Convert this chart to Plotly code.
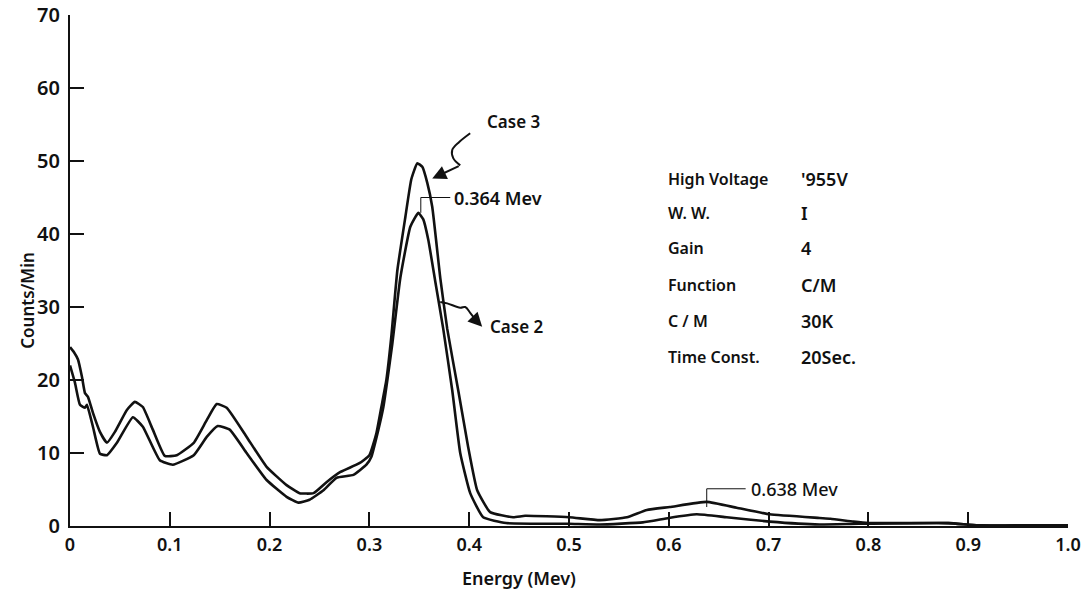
import plotly.graph_objects as go

# ---------------- data ----------------
case3_x = [0.000, 0.004, 0.008, 0.012, 0.015, 0.018, 0.023, 0.030, 0.037, 0.045, 0.057, 0.065, 0.073,
           0.083, 0.095, 0.107, 0.124, 0.137, 0.147, 0.157, 0.177, 0.197, 0.217, 0.230, 0.244, 0.257,
           0.271, 0.290, 0.300, 0.307, 0.312, 0.317, 0.322, 0.328, 0.336, 0.342, 0.348, 0.353, 0.358,
           0.363, 0.371, 0.378, 0.389, 0.399, 0.408, 0.421, 0.444, 0.456, 0.500, 0.531, 0.558, 0.578,
           0.601, 0.638, 0.668, 0.701, 0.751, 0.762, 0.785, 0.800, 0.880, 0.910, 1.000]
case3_y = [24.5, 23.8, 22.8, 20.4, 18.2, 17.7, 15.5, 12.9, 11.4, 12.9, 15.9, 17.0, 16.3,
           13.2, 9.6, 9.7, 11.4, 14.5, 16.7, 16.2, 12.2, 8.1, 5.6, 4.5, 4.5, 6.0,
           7.4, 8.6, 9.7, 12.7, 16.3, 20.0, 26.0, 35.0, 42.3, 47.5, 49.7, 49.2, 47.0,
           43.7, 34.0, 27.0, 18.6, 10.8, 4.9, 1.9, 1.2, 1.4, 1.2, 0.8, 1.2, 2.2,
           2.6, 3.3, 2.5, 1.6, 1.1, 1.0, 0.6, 0.4, 0.4, 0.1, 0.1]

case2_x = [0.000, 0.005, 0.010, 0.015, 0.017, 0.023, 0.030, 0.037, 0.047, 0.063, 0.073, 0.090,
           0.103, 0.124, 0.137, 0.148, 0.160, 0.177, 0.197, 0.217, 0.229, 0.240, 0.254, 0.267,
           0.284, 0.297, 0.302, 0.309, 0.314, 0.318, 0.323, 0.331, 0.341, 0.349, 0.354, 0.359,
           0.366, 0.374, 0.383, 0.391, 0.401, 0.414, 0.437, 0.500, 0.531, 0.574, 0.600, 0.628,
           0.658, 0.701, 0.751, 0.790, 0.880, 0.910, 1.000]
case2_y = [22.0, 19.6, 16.6, 16.2, 16.6, 13.6, 9.9, 9.7, 11.4, 14.9, 13.6, 9.0,
           8.4, 9.7, 12.2, 13.7, 13.2, 10.0, 6.3, 4.0, 3.2, 3.6, 4.9, 6.6,
           7.0, 8.4, 9.5, 13.2, 16.3, 20.0, 25.0, 34.0, 41.0, 42.9, 42.0, 39.2,
           33.5, 27.0, 18.6, 10.0, 4.5, 1.2, 0.4, 0.3, 0.2, 0.5, 1.1, 1.6,
           1.2, 0.6, 0.2, 0.3, 0.4, 0.1, 0.1]

x_ticks = [0, 0.1, 0.2, 0.3, 0.4, 0.5, 0.6, 0.7, 0.8, 0.9, 1.0]
x_tick_labels = ["0", "0.1", "0.2", "0.3", "0.4", "0.5", "0.6", "0.7", "0.8", "0.9", "1.0"]
y_ticks = [0, 10, 20, 30, 40, 50, 60, 70]
y_tick_labels = ["0", "10", "20", "30", "40", "50", "60", "70"]

info_labels = ["High Voltage", "W. W.", "Gain", "Function", "C / M", "Time Const."]
info_values = ["'955V", "I", "4", "C/M", "30K", "20Sec."]

FONT = "Noto Sans"
INK = "#111111"

fig = go.Figure()
for xs, ys, name in [(case3_x, case3_y, "Case 3"), (case2_x, case2_y, "Case 2")]:
    fig.add_trace(go.Scatter(x=xs, y=ys, mode="lines", name=name,
                             line=dict(color=INK, width=2.6, shape="spline", smoothing=0.4),
                             showlegend=False, hoverinfo="x+y+name"))

# squiggle leaders
sq3_x = [0.401, 0.390, 0.383, 0.384, 0.391]
sq3_y = [53.8, 52.6, 51.5, 50.4, 49.4]
sq2_x = [0.371, 0.378, 0.391, 0.396, 0.401, 0.406]
sq2_y = [30.7, 30.5, 29.9, 30.0, 29.2, 28.3]
for xs, ys in [(sq3_x, sq3_y), (sq2_x, sq2_y)]:
    fig.add_trace(go.Scatter(x=xs, y=ys, mode="lines", line=dict(color=INK, width=2, shape="spline"),
                             showlegend=False, hoverinfo="skip"))

annos = []
annos.append(dict(x=0.363, y=47.6, ax=0.391, ay=49.4, xref="x", yref="y", axref="x", ayref="y",
                  text="", showarrow=True, arrowhead=2, arrowsize=1.4, arrowwidth=2, arrowcolor=INK))
annos.append(dict(x=0.413, y=27.3, ax=0.406, ay=28.3, xref="x", yref="y", axref="x", ayref="y",
                  text="", showarrow=True, arrowhead=2, arrowsize=1.4, arrowwidth=2, arrowcolor=INK))
annos.append(dict(x=0.444, y=55.4, text="Case 3", showarrow=False, xanchor="center",
                  font=dict(family=FONT, size=17, color=INK, weight=600)))
annos.append(dict(x=0.419, y=27.3, text="Case 2", showarrow=False, xanchor="left",
                  font=dict(family=FONT, size=17, color=INK, weight=600)))
annos.append(dict(x=0.383, y=45.0, text="0.364 Mev", showarrow=False, xanchor="left",
                  font=dict(family=FONT, size=18, color=INK, weight=600)))
annos.append(dict(x=0.680, y=5.1, text="0.638 Mev", showarrow=False, xanchor="left",
                  font=dict(family=FONT, size=18, color=INK, weight=500)))

row_y = [47.5, 42.9, 38.1, 33.0, 28.1, 23.2]
for lab, val, yy in zip(info_labels, info_values, row_y):
    annos.append(dict(x=0.597, y=yy, text=lab, showarrow=False, xanchor="left",
                      font=dict(family=FONT, size=16, color=INK, weight=600)))
    annos.append(dict(x=0.730, y=yy, text=val, showarrow=False, xanchor="left",
                      font=dict(family=FONT, size=18, color=INK, weight=600)))

annos.append(dict(xref="paper", yref="paper", x=-0.056, y=0.442, text="Counts/Min", textangle=-90,
                  showarrow=False, font=dict(family=FONT, size=17, color=INK, weight=600)))
annos.append(dict(xref="paper", yref="paper", x=0.45, y=-0.102, text="Energy (Mev)",
                  showarrow=False, yanchor="middle",
                  font=dict(family=FONT, size=18, color=INK, weight=600)))

shapes = [
    dict(type="line", x0=0.3515, x1=0.3515, y0=42.9, y1=45.0, line=dict(color=INK, width=1)),
    dict(type="line", x0=0.3515, x1=0.381, y0=45.0, y1=45.0, line=dict(color=INK, width=1)),
    dict(type="line", x0=0.638, x1=0.638, y0=2.6, y1=5.1, line=dict(color=INK, width=1)),
    dict(type="line", x0=0.638, x1=0.677, y0=5.1, y1=5.1, line=dict(color=INK, width=1)),
]

fig.update_layout(
    width=1081, height=594,
    margin=dict(l=70, r=13, t=15, b=68),
    paper_bgcolor="white", plot_bgcolor="white",
    font=dict(family=FONT, color=INK),
    annotations=annos, shapes=shapes,
    xaxis=dict(range=[0, 1.0], tickvals=x_ticks, ticktext=x_tick_labels, ticks="inside",
               ticklen=14, tickwidth=1.5, tickcolor=INK, showline=True, linecolor=INK, linewidth=1.5,
               showgrid=False, zeroline=False, ticklabelstandoff=2, automargin=False,
               tickfont=dict(family=FONT, size=18, color=INK, weight=600)),
    yaxis=dict(range=[0, 70], tickvals=y_ticks, ticktext=y_tick_labels, ticks="inside",
               ticklen=14, tickwidth=2, tickcolor=INK, showline=True, linecolor=INK, linewidth=2,
               showgrid=False, zeroline=False, ticklabelstandoff=4, automargin=False,
               tickfont=dict(family=FONT, size=20, color=INK, weight=600)),
)

# remove the browser's default 8px body margin so the figure fills the window exactly
fig.write_html("out.html", config={"displayModeBar": False},
               post_script="document.body.style.margin='0';")
